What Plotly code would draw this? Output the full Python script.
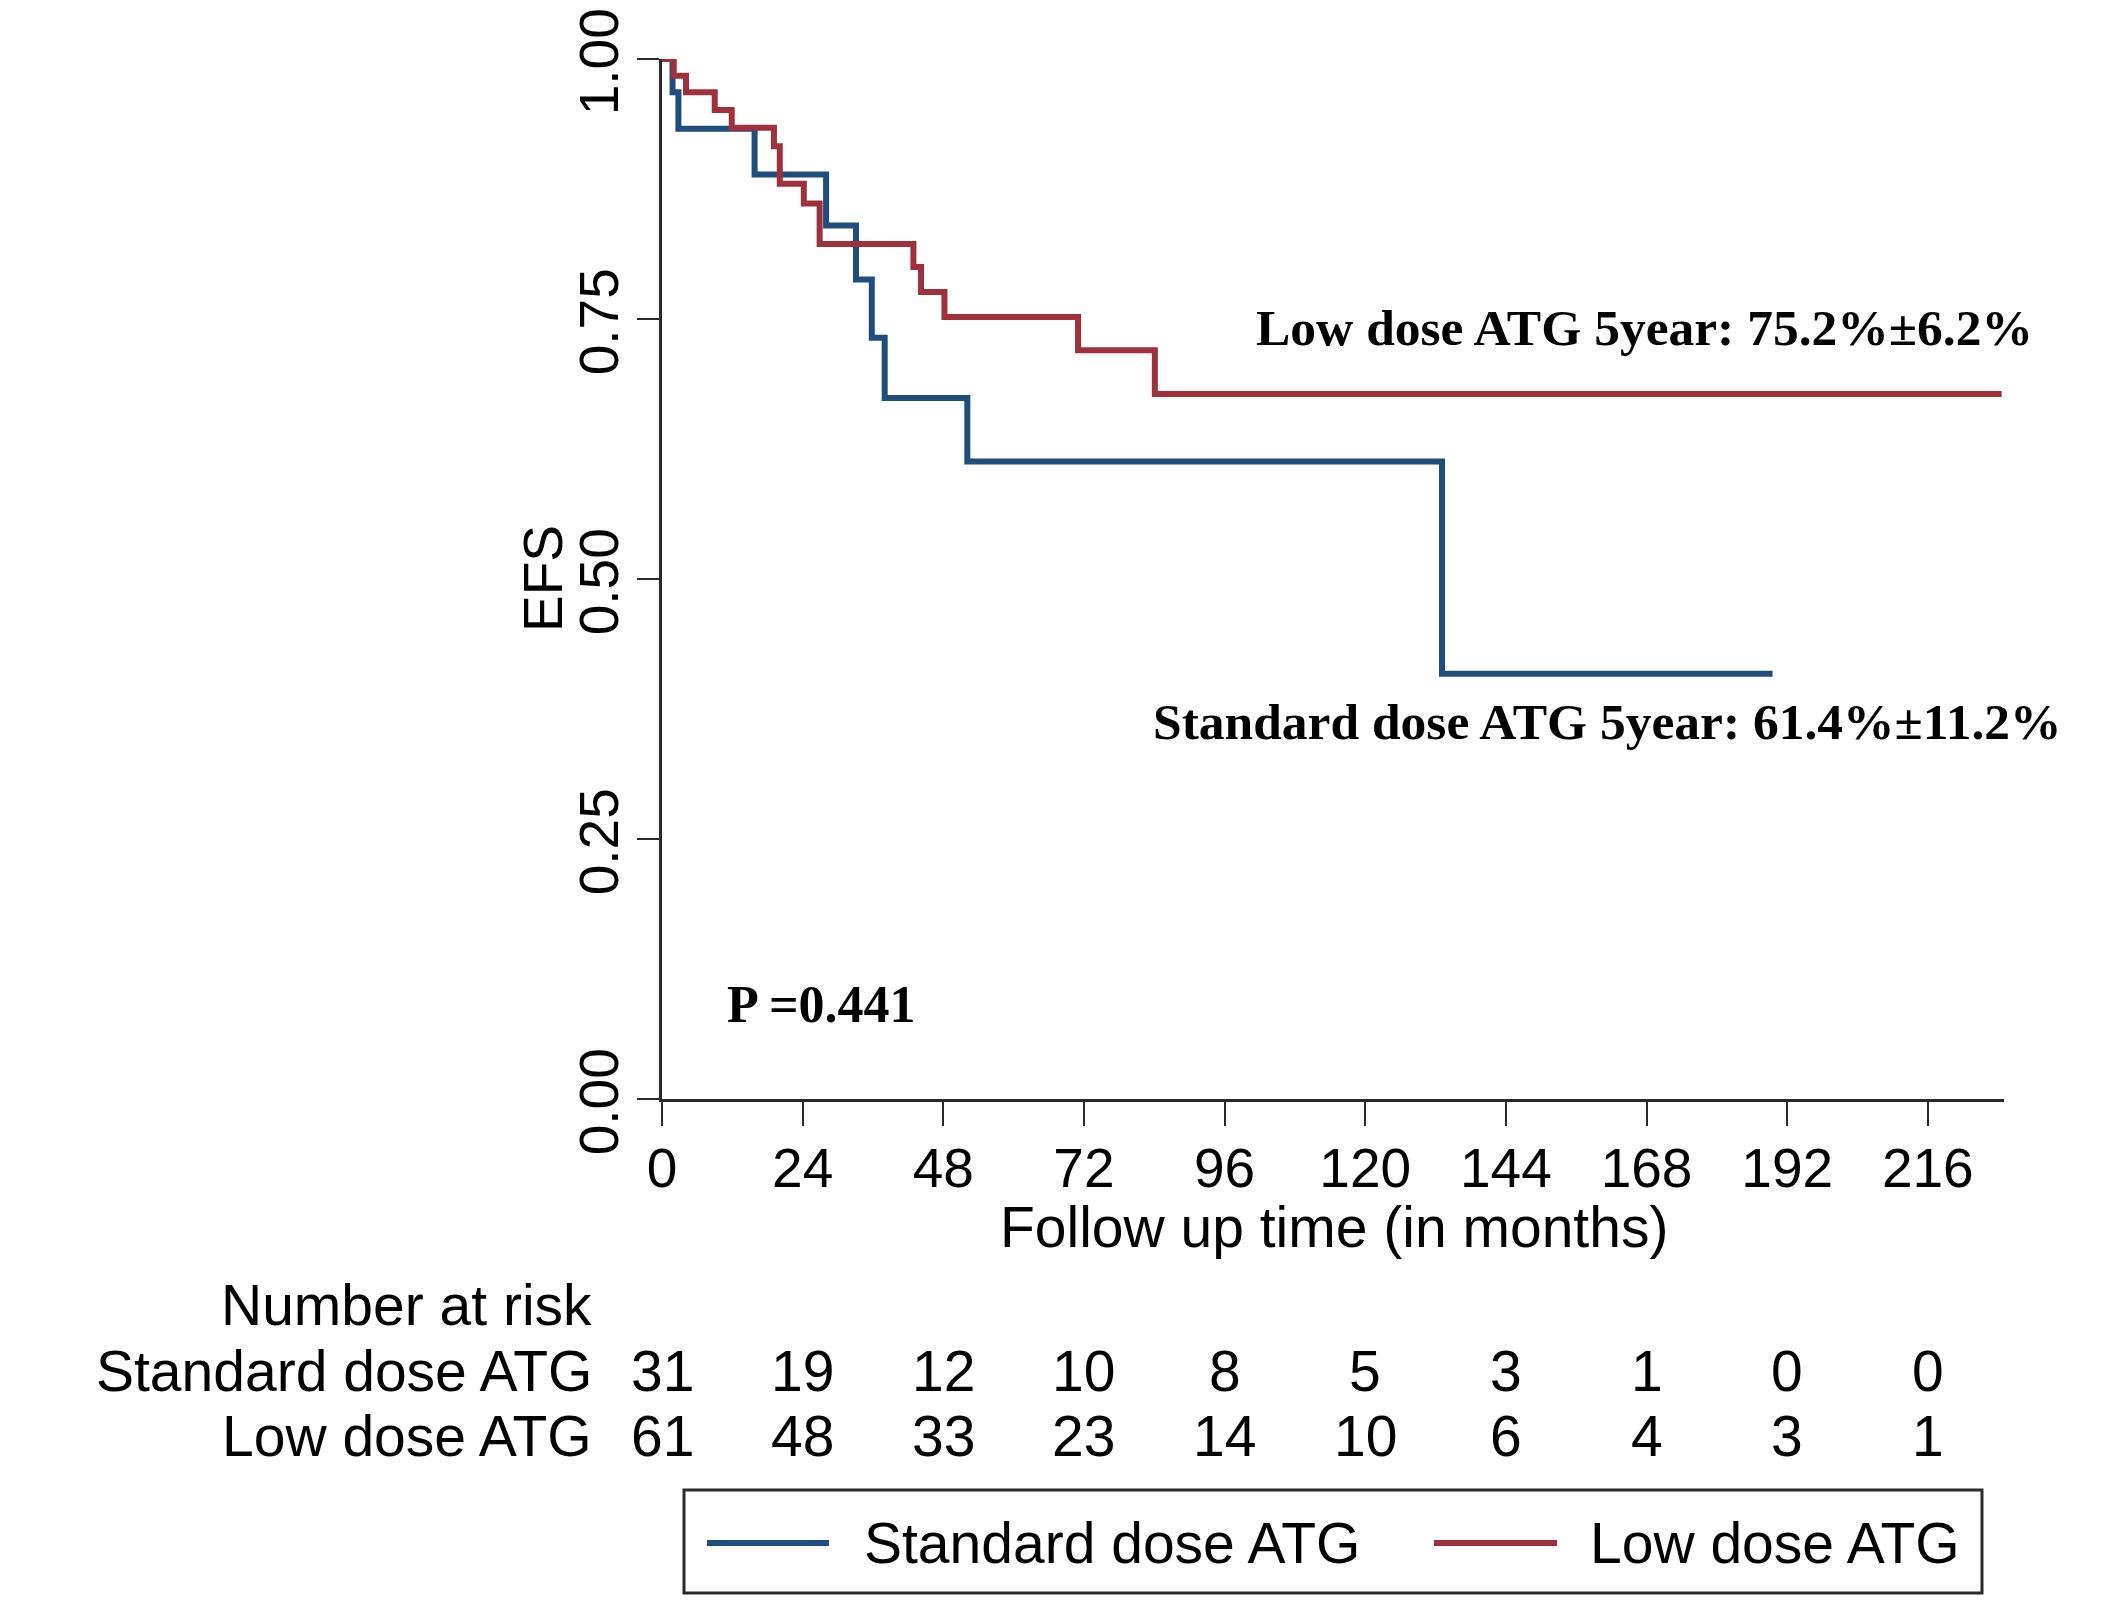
import plotly.graph_objects as go

# ---------------- data ----------------
std_name = "Standard dose ATG"
low_name = "Low dose ATG"

std_time = [0, 1.8, 2.8, 15.8, 28.0, 33.1, 35.8, 38.0, 52.1, 133.1, 189.5]
std_surv = [1.0, 0.968, 0.933, 0.889, 0.840, 0.788, 0.732, 0.674, 0.613, 0.409, 0.409]

low_time = [0, 2.0, 4.1, 9.0, 11.9, 19.1, 20.1, 24.2, 26.9, 42.9, 44.2, 48.2, 71.0, 84.1, 228.6]
low_surv = [1.0, 0.984, 0.968, 0.951, 0.934, 0.916, 0.880, 0.861, 0.822, 0.800, 0.776, 0.752, 0.720, 0.678, 0.678]

risk_times = [0, 24, 48, 72, 96, 120, 144, 168, 192, 216]
risk_std = [31, 19, 12, 10, 8, 5, 3, 1, 0, 0]
risk_low = [61, 48, 33, 23, 14, 10, 6, 4, 3, 1]

y_ticks = [0, 0.25, 0.5, 0.75, 1.0]

low_label = "Low dose ATG 5year: 75.2%±6.2%"
std_label = "Standard dose ATG 5year: 61.4%±11.2%"
p_label = "P =0.441"

# ---------------- layout geometry ----------------
W, H = 2117, 1602
L, R, T, B = 662, 2004, 59, 1099   # plot area in pixels
PW, PH = R - L, B - T

def px(x):
    return (x - L) / PW

def py(y):
    return (B - y) / PH

BLUE = "#1f4e7d"
RED = "#a0303b"
AX = "#2a2a2a"
SANS = "Liberation Sans, Arial, sans-serif"
SERIF = "Liberation Serif, Times New Roman, serif"
FS = 57

fig = go.Figure()
fig.add_trace(go.Scatter(x=std_time, y=std_surv, mode="lines", name=std_name,
                         line=dict(color=BLUE, width=6, shape="hv"),
                         cliponaxis=False, showlegend=False))
fig.add_trace(go.Scatter(x=low_time, y=low_surv, mode="lines", name=low_name,
                         line=dict(color=RED, width=6, shape="hv"),
                         cliponaxis=False, showlegend=False))

fig.update_layout(
    width=W, height=H,
    margin=dict(l=L, r=W - R, t=T, b=H - B),
    paper_bgcolor="white", plot_bgcolor="white",
    font=dict(family=SANS, size=FS, color="black"),
    showlegend=False,
)
fig.update_xaxes(
    range=[0, 229], tickvals=risk_times, ticktext=[str(v) for v in risk_times],
    showline=True, linecolor=AX, linewidth=3, ticks="outside", ticklen=24,
    tickwidth=2, tickcolor=AX, showgrid=False, zeroline=False, automargin=False,
    tickfont=dict(family=SANS, size=55, color="black"), ticklabelstandoff=-5,
    ticklabeloverflow="allow",
)
fig.update_yaxes(
    range=[0, 1], tickvals=y_ticks, ticktext=[f"{v:.2f}" for v in y_ticks],
    tickangle=-90, showline=True, linecolor=AX, linewidth=3, ticks="outside",
    ticklen=22, tickwidth=2, tickcolor=AX, showgrid=False, zeroline=False,
    automargin=False, ticklabeloverflow="allow", ticklabelshift=11,
    tickfont=dict(family=SANS, size=55, color="black"), ticklabelstandoff=-3,
)

ann = []
# axis titles
ann.append(dict(text="EFS", xref="paper", yref="paper", x=px(543), y=py(579),
                textangle=-90, xanchor="center", yanchor="middle", showarrow=False,
                font=dict(family=SANS, size=55)))
ann.append(dict(text="Follow up time (in months)", xref="paper", yref="paper",
                x=px(1334), y=py(1227), xanchor="center", yanchor="middle",
                showarrow=False, font=dict(family=SANS, size=FS)))
# curve labels
ann.append(dict(text=f"<b>{low_label}</b>", xref="paper", yref="paper",
                x=px(1254), y=py(327), xanchor="left", yanchor="middle",
                showarrow=False, font=dict(family=SERIF, size=51.5)))
ann.append(dict(text=f"<b>{std_label}</b>", xref="paper", yref="paper",
                x=px(1151), y=py(721), xanchor="left", yanchor="middle",
                showarrow=False, font=dict(family=SERIF, size=51.5)))
ann.append(dict(text=f"<b>{p_label}</b>", xref="paper", yref="paper",
                x=px(725), y=py(1004), xanchor="left", yanchor="middle",
                showarrow=False, font=dict(family=SERIF, size=52)))
# number at risk table
ann.append(dict(text="Number at risk", xref="paper", yref="paper", x=px(594), y=py(1305),
                xanchor="right", yanchor="middle", showarrow=False))
row_y = {std_name: 1371, low_name: 1436}
for name, vals in ((std_name, risk_std), (low_name, risk_low)):
    ann.append(dict(text=name, xref="paper", yref="paper", x=px(594), y=py(row_y[name]),
                    xanchor="right", yanchor="middle", showarrow=False))
    for t, v in zip(risk_times, vals):
        ann.append(dict(text=str(v), xref="x", yref="paper", x=t, y=py(row_y[name]),
                        xanchor="center", yanchor="middle", showarrow=False))

# legend (box, line samples, labels)
shapes = [
    dict(type="rect", xref="paper", yref="paper", x0=px(684), x1=px(1982),
         y0=py(1490), y1=py(1593), line=dict(color=AX, width=3), fillcolor="white"),
    dict(type="line", xref="paper", yref="paper", x0=px(707), x1=px(829),
         y0=py(1543), y1=py(1543), line=dict(color=BLUE, width=6)),
    dict(type="line", xref="paper", yref="paper", x0=px(1434), x1=px(1557),
         y0=py(1543), y1=py(1543), line=dict(color=RED, width=6)),
]
ann.append(dict(text=std_name, xref="paper", yref="paper", x=px(862), y=py(1543),
                xanchor="left", yanchor="middle", showarrow=False))
ann.append(dict(text=low_name, xref="paper", yref="paper", x=px(1588), y=py(1543),
                xanchor="left", yanchor="middle", showarrow=False))

fig.update_layout(annotations=ann, shapes=shapes)
fig.write_html("out.html", config={"displayModeBar": False},
               post_script="document.body.style.margin='0';")
